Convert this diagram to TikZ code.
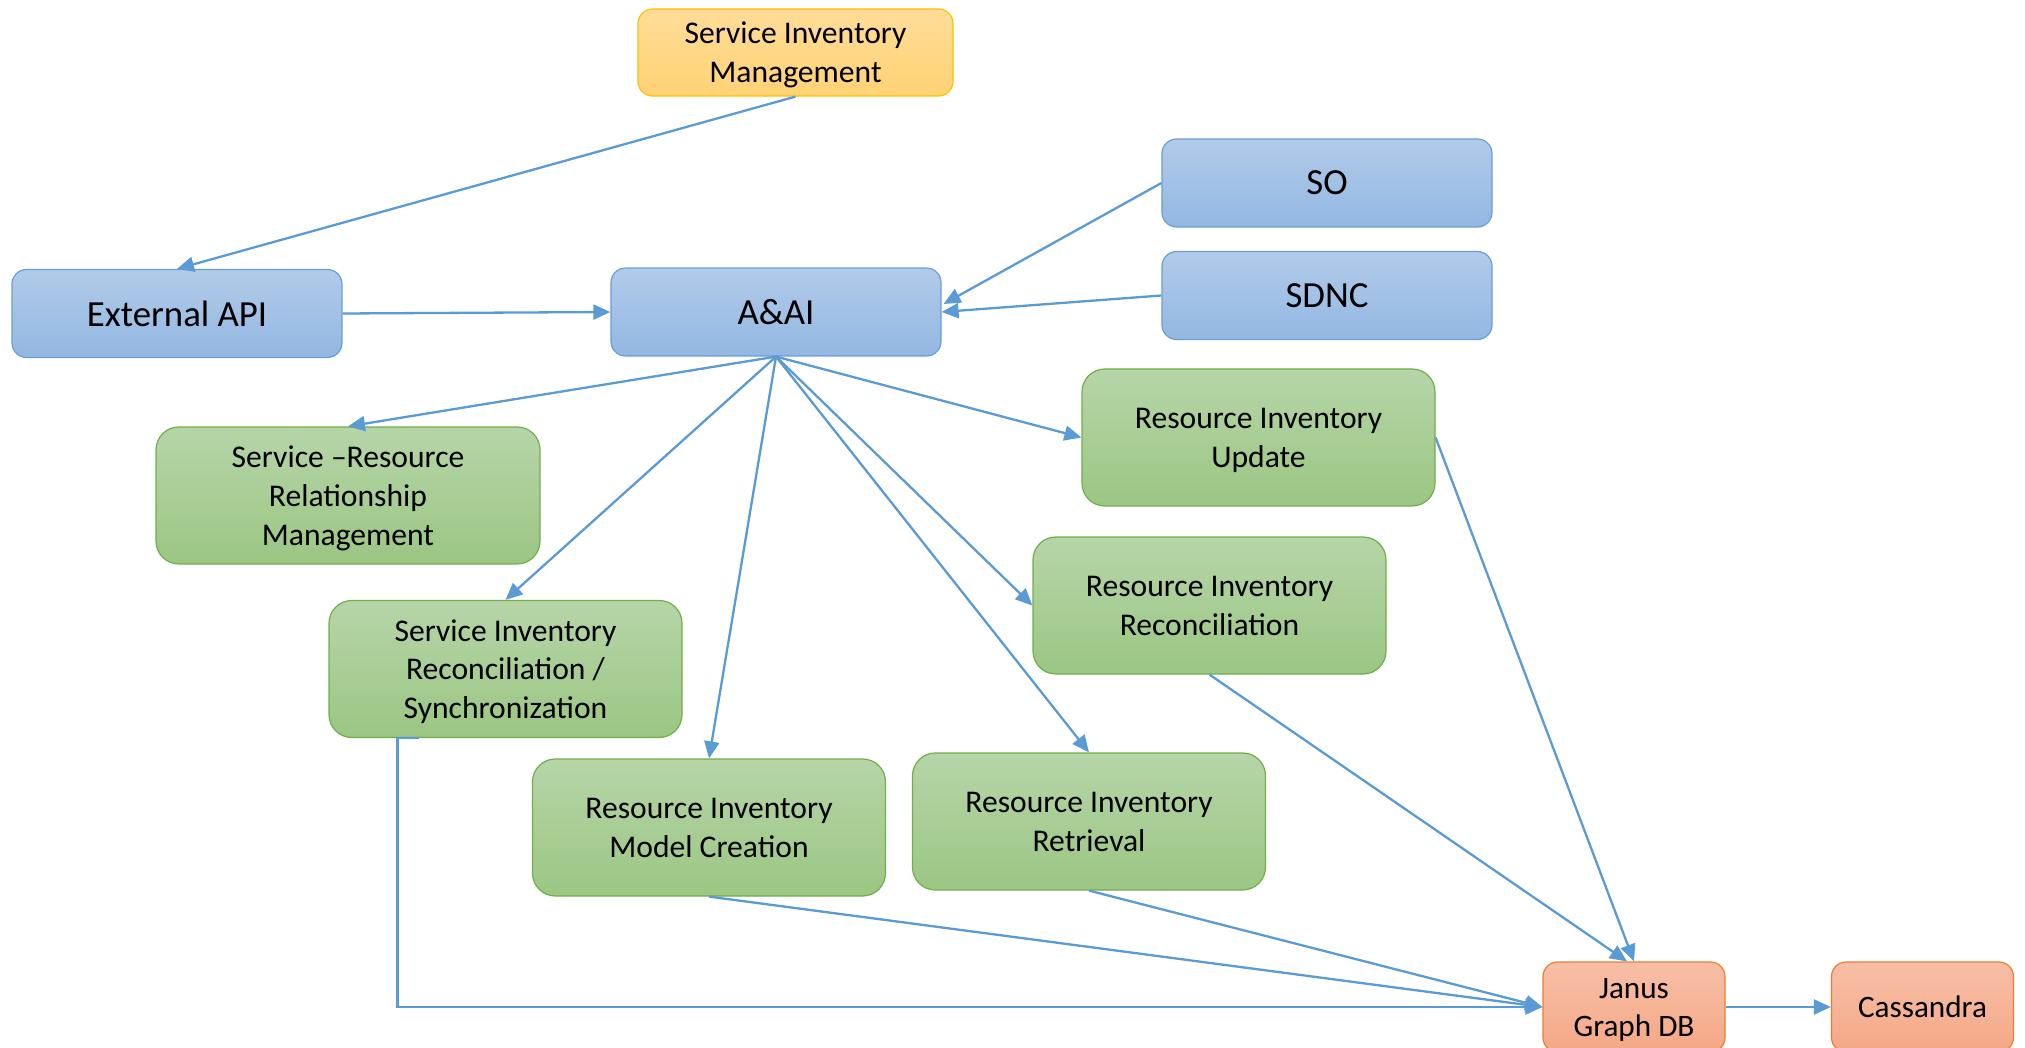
\documentclass[tikz,border=0pt]{standalone}
\usepackage{fontspec}
\setmainfont{Carlito}
\usetikzlibrary{arrows.meta,calc}
\definecolor{bluetop}{HTML}{B1CBE9}
\definecolor{bluebot}{HTML}{93B7E2}
\definecolor{bluedraw}{HTML}{6A9ED6}
\definecolor{greentop}{HTML}{B6D5A8}
\definecolor{greenbot}{HTML}{9BC683}
\definecolor{greendraw}{HTML}{72AE4A}
\definecolor{orangetop}{HTML}{FFDC98}
\definecolor{orangebot}{HTML}{FFD274}
\definecolor{orangedraw}{HTML}{FFC000}
\definecolor{redtop}{HTML}{F7BFA7}
\definecolor{redbot}{HTML}{F4A886}
\definecolor{reddraw}{HTML}{ED7D31}
\definecolor{linkc}{HTML}{5B9BD5}
\tikzset{
  basebox/.style={draw, rounded corners=7.3pt, line width=0.6pt, align=center, inner sep=0pt, text=black, text depth=0pt},
  bluebox/.style={basebox, draw=bluedraw, top color=bluetop, bottom color=bluebot, minimum width=165pt, minimum height=44pt, font=\fontsize{18.4}{22}\selectfont},
  greenbox/.style={basebox, rounded corners=11.4pt, draw=greendraw, top color=greentop, bottom color=greenbot, minimum width=176.5pt, minimum height=68.5pt, font=\fontsize{15.8}{19.4}\selectfont},
  orangebox/.style={basebox, draw=orangedraw, top color=orangetop, bottom color=orangebot, minimum width=157.5pt, minimum height=43.5pt, font=\fontsize{15.8}{19.4}\selectfont},
  redbox/.style={basebox, draw=reddraw, top color=redtop, bottom color=redbot, minimum width=91pt, minimum height=45pt, font=\fontsize{15.6}{19}\selectfont},
  link/.style={draw=linkc, line width=1.15pt, -{Triangle[length=8.5pt,width=7.5pt]}}
}
\begin{document}
\begin{tikzpicture}[x=0.5pt,y=-0.5pt]
\clip (0,0) rectangle (2025,1048);
\fill[white] (0,0) rectangle (2025,1048);
% nodes
\node[orangebox] (sim) at (795.5,52.5) {Service Inventory\\Management};
\node[bluebox] (ext) at (177,313.5) {External API};
\node[bluebox] (aai) at (776,312) {A\&AI};
\node[bluebox] (so) at (1327,183) {SO};
\node[bluebox] (sdnc) at (1327,295.5) {SDNC};
\node[greenbox, minimum width=192pt] (srrm) at (348,495.5) {Service --Resource\\Relationship\\Management};
\node[greenbox] (riu) at (1258.5,437.5) {Resource Inventory\\Update};
\node[greenbox] (sirs) at (505.5,669) {Service Inventory\\Reconciliation /\\Synchronization};
\node[greenbox] (rir) at (1209.5,605.5) {Resource Inventory\\Reconciliation};
\node[greenbox] (rimc) at (709,827.5) {Resource Inventory\\Model Creation};
\node[greenbox] (riret) at (1089,821.5) {Resource Inventory\\Retrieval};
\node[redbox] (janus) at (1634,1007) {Janus\\Graph DB};
\node[redbox] (cass) at (1922.5,1007) {Cassandra};
% helper coordinates
\coordinate (aaiso) at ($(aai.east)+(2,-8)$);
\coordinate (janusn1) at ($(janus.north)+(-7,0)$);
\coordinate (sirsstart) at ($(sirs.south)+(-87,0)$);
\coordinate (sirscorner) at ($(sirs.south)+(-108,0)$);
% connectors
\draw[link] (sim.south) -- (ext.north);
\draw[link] (ext.east) -- (aai.west);
\draw[link] (so.west) -- (aaiso);
\draw[link] (sdnc.west) -- (aai.east);
\draw[link] (aai.south) -- (srrm.north);
\draw[link] (aai.south) -- (sirs.north);
\draw[link] (aai.south) -- (rimc.north);
\draw[link] (aai.south) -- (riret.north);
\draw[link] (aai.south) -- (rir.west);
\draw[link] (aai.south) -- (riu.west);
\draw[link] (riu.east) -- (janus.north);
\draw[link] (rir.south) -- (janusn1);
\draw[link] (riret.south) -- (janus.west);
\draw[link] (rimc.south) -- (janus.west);
\draw[link] (sirsstart) -- (sirscorner) |- (janus.west);
\draw[link] (janus.east) -- (cass.west);
\end{tikzpicture}
\end{document}
